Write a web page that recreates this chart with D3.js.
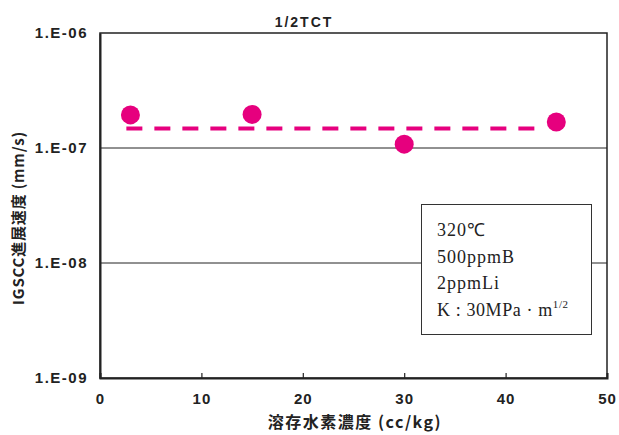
<!DOCTYPE html>
<html>
<head>
<meta charset="utf-8">
<script src="https://cdn.jsdelivr.net/npm/d3@7"></script>
<style>
  html, body { margin: 0; padding: 0; background: #fff; }
  svg { display: block; }
</style>
</head>
<body>
<div id="chart"></div>
<script>
// ---- data ----
const hydrogen = [3, 15, 30, 45];                 // 溶存水素濃度 (cc/kg)
const growthRate = [1.94e-7, 1.96e-7, 1.08e-7, 1.68e-7]; // IGSCC進展速度 (mm/s)
const trendX = [2.6, 43.4];
const trendY = [1.48e-7, 1.48e-7];
const xTicks = [0, 10, 20, 30, 40, 50];
const yTicks = [1e-9, 1e-8, 1e-7, 1e-6];
const yTickLabels = ["1.E-09", "1.E-08", "1.E-07", "1.E-06"];
const legendLines = ["320℃", "500ppmB", "2ppmLi"];
const title = "1/2TCT";
const xLabel = "溶存水素濃度 (cc/kg)";
const yLabel = "IGSCC進展速度 (mm/s)";

// ---- layout ----
const W = 619, H = 435;
const L = 100, R = 607, T = 33, B = 378;
const magenta = "#E6007E";
const boldSans = "'Liberation Sans', Arial, sans-serif";
const jpSans = "'Noto Sans CJK JP', 'Liberation Sans', sans-serif";
const serif = "'Liberation Serif', 'Times New Roman', serif";

const svg = d3.select("#chart").append("svg").attr("width", W).attr("height", H);

const x = d3.scaleLinear().domain([0, 50]).range([L, R]);
const y = d3.scaleLog().domain([1e-9, 1e-6]).range([B, T]);

// gridlines
svg.append("g").selectAll("line")
  .data([1e-8, 1e-7]).join("line")
  .attr("x1", L).attr("x2", R)
  .attr("y1", d => y(d)).attr("y2", d => y(d))
  .attr("stroke", "#222").attr("stroke-width", 1);

// frame
svg.append("rect").attr("x", L).attr("y", T).attr("width", R - L).attr("height", B - T)
  .attr("fill", "none").attr("stroke", "#222").attr("stroke-width", 1.5);

// x axis
const xAxis = d3.axisBottom(x).tickValues(xTicks).tickSize(-5).tickPadding(15).tickFormat(d3.format("d"));
const gx = svg.append("g").attr("transform", `translate(0,${B})`).call(xAxis);
gx.select(".domain").attr("stroke", "#222").attr("stroke-width", 2);
gx.selectAll(".tick line").attr("stroke", "#222").attr("stroke-width", 1.2);
gx.selectAll("text").attr("font-family", boldSans).attr("font-weight", "bold")
  .attr("font-size", 15).attr("letter-spacing", 1).attr("fill", "#222");

// y axis
const yAxis = d3.axisLeft(y).tickValues(yTicks).tickSize(0).tickPadding(12)
  .tickFormat((d, i) => yTickLabels[i]);
const gy = svg.append("g").attr("transform", `translate(${L},0)`).call(yAxis);
gy.select(".domain").attr("stroke", "#222").attr("stroke-width", 2);
gy.selectAll("text").attr("font-family", boldSans).attr("font-weight", "bold")
  .attr("font-size", 15).attr("letter-spacing", 1.5).attr("fill", "#222");

// trend line
svg.append("path")
  .datum(trendX.map((d, i) => [d, trendY[i]]))
  .attr("d", d3.line().x(d => x(d[0])).y(d => y(d[1])))
  .attr("fill", "none").attr("stroke", magenta).attr("stroke-width", 4)
  .attr("stroke-dasharray", "16,12");

// points
svg.append("g").selectAll("circle")
  .data(hydrogen.map((d, i) => [d, growthRate[i]])).join("circle")
  .attr("cx", d => x(d[0])).attr("cy", d => y(d[1])).attr("r", 9.5)
  .attr("fill", magenta);

// title
svg.append("text").attr("x", 304).attr("y", 27).attr("text-anchor", "middle")
  .attr("font-family", boldSans).attr("font-weight", "bold").attr("font-size", 14)
  .attr("letter-spacing", 2).attr("fill", "#222").text(title);

// x label
svg.append("text").attr("x", 355).attr("y", 428).attr("text-anchor", "middle")
  .attr("font-family", jpSans).attr("font-weight", "bold").attr("font-size", 16)
  .attr("letter-spacing", 1.5).attr("fill", "#222").text(xLabel);

// y label
svg.append("text").attr("transform", "translate(24,218) rotate(-90)").attr("text-anchor", "middle")
  .attr("font-family", jpSans).attr("font-weight", "bold").attr("font-size", 15)
  .attr("letter-spacing", 0.8).attr("fill", "#222").text(yLabel);

// legend box
const lg = svg.append("g");
lg.append("rect").attr("x", 421.5).attr("y", 204.5).attr("width", 170).attr("height", 130)
  .attr("fill", "#fff").attr("stroke", "#333").attr("stroke-width", 1);
const baselines = [236, 263, 289, 316];
legendLines.forEach((t, i) => {
  lg.append("text").attr("x", 437).attr("y", baselines[i])
    .attr("font-family", serif).attr("font-size", 18).attr("letter-spacing", 1)
    .attr("fill", "#222").text(t);
});
const kt = lg.append("text").attr("x", 437).attr("y", baselines[3])
  .attr("font-family", serif).attr("font-size", 18).attr("letter-spacing", 0.6).attr("fill", "#222");
kt.append("tspan").text("K : 30MPa · m");
kt.append("tspan").attr("font-size", 11).attr("dy", -8).text("1/2");
</script>
</body>
</html>
